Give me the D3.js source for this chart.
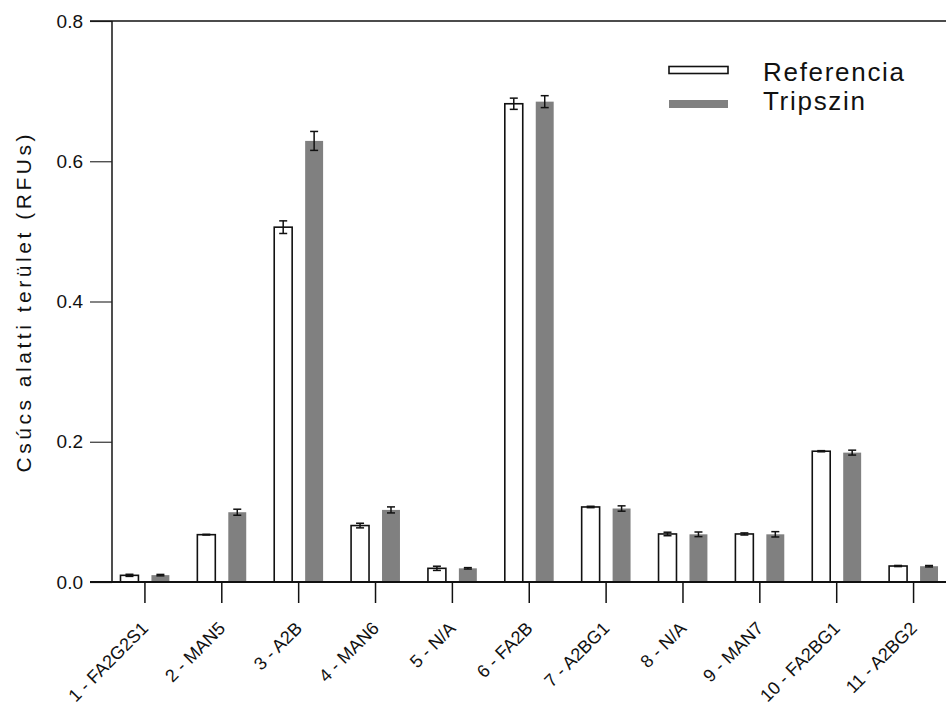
<!DOCTYPE html>
<html>
<head>
<meta charset="utf-8">
<script src="https://cdn.jsdelivr.net/npm/d3@7"></script>
<style>
  html, body { margin: 0; padding: 0; background: #fff; }
  svg { display: block; font-family: "Liberation Sans", Arial, sans-serif; }
</style>
</head>
<body>
<svg id="chart" width="946" height="702"></svg>
<script>
// Glycan peaks: area under each peak for the two sample preparations
const categories = ["1 - FA2G2S1", "2 - MAN5", "3 - A2B", "4 - MAN6", "5 - N/A", "6 - FA2B",
                    "7 - A2BG1", "8 - N/A", "9 - MAN7", "10 - FA2BG1", "11 - A2BG2"];
const seriesNames = ["Referencia", "Tripszin"];
const referencia    = [0.0095, 0.0675, 0.506, 0.0805, 0.0195, 0.682, 0.107, 0.0685, 0.0685, 0.1865, 0.0228];
const referenciaErr = [0.0015, 0.0005, 0.009, 0.0033, 0.0030, 0.008, 0.001, 0.0025, 0.0015, 0.0008, 0.0008];
const tripszin      = [0.0098, 0.0995, 0.629, 0.1028, 0.0195, 0.685, 0.1048, 0.068, 0.068, 0.1845, 0.0225];
const tripszinErr   = [0.0010, 0.0043, 0.0135, 0.0043, 0.0010, 0.0085, 0.0038, 0.0033, 0.0038, 0.0035, 0.0010];
const yTicks = [0.0, 0.2, 0.4, 0.6, 0.8];

const svg = d3.select("#chart");
const plot = { left: 112, top: 21, bottom: 582, right: 946 };

const y = d3.scaleLinear().domain([0, 0.8]).range([plot.bottom, plot.top]);
const x = d3.scaleBand().domain(categories).range([106.5, 952]).paddingInner(0.364).paddingOuter(0.182);
const xSub = d3.scaleBand().domain(seriesNames).range([0, x.bandwidth()]).paddingInner(0.42);

const rows = categories.map((c, i) => ({
  cat: c,
  values: [
    { key: "Referencia", v: referencia[i], e: referenciaErr[i] },
    { key: "Tripszin",   v: tripszin[i],   e: tripszinErr[i] }
  ]
}));

// bars
const groups = svg.append("g").selectAll("g").data(rows).join("g")
  .attr("transform", d => `translate(${x(d.cat)},0)`);

groups.selectAll("rect").data(d => d.values).join("rect")
  .attr("x", d => xSub(d.key))
  .attr("width", xSub.bandwidth())
  .attr("y", d => y(d.v))
  .attr("height", d => y(0) - y(d.v))
  .attr("fill", d => d.key === "Referencia" ? "#fff" : "#808080")
  .attr("stroke", d => d.key === "Referencia" ? "#111" : "none")
  .attr("stroke-width", 1.6);

// error bars
const capHalf = 4;
const eb = groups.selectAll("g.err").data(d => d.values).join("g").attr("class", "err")
  .attr("stroke", "#111").attr("stroke-width", 1.5);
eb.append("line")
  .attr("x1", d => xSub(d.key) + xSub.bandwidth() / 2)
  .attr("x2", d => xSub(d.key) + xSub.bandwidth() / 2)
  .attr("y1", d => y(d.v + d.e)).attr("y2", d => y(d.v - d.e));
eb.append("line")
  .attr("x1", d => xSub(d.key) + xSub.bandwidth() / 2 - capHalf)
  .attr("x2", d => xSub(d.key) + xSub.bandwidth() / 2 + capHalf)
  .attr("y1", d => y(d.v + d.e)).attr("y2", d => y(d.v + d.e));
eb.append("line")
  .attr("x1", d => xSub(d.key) + xSub.bandwidth() / 2 - capHalf)
  .attr("x2", d => xSub(d.key) + xSub.bandwidth() / 2 + capHalf)
  .attr("y1", d => y(d.v - d.e)).attr("y2", d => y(d.v - d.e));

// y axis
const yAxis = svg.append("g")
  .attr("transform", `translate(${plot.left},0)`)
  .call(d3.axisLeft(y).tickValues(yTicks).tickFormat(d3.format(".1f")).tickSize(22).tickPadding(7));
yAxis.select(".domain").remove();
yAxis.selectAll(".tick line").attr("stroke", "#333").attr("stroke-width", 1.2);
yAxis.selectAll(".tick text").attr("font-size", 19).attr("fill", "#111")
  .attr("font-family", "Liberation Sans, Arial, sans-serif");
svg.append("line")
  .attr("x1", plot.left).attr("x2", plot.left)
  .attr("y1", plot.top).attr("y2", plot.bottom)
  .attr("stroke", "#222").attr("stroke-width", 1.6);

// frame lines along top and baseline
svg.append("line").attr("x1", 90).attr("x2", plot.right)
  .attr("y1", y(0.8)).attr("y2", y(0.8)).attr("stroke", "#111").attr("stroke-width", 1.6);
svg.append("line").attr("x1", 90).attr("x2", plot.right)
  .attr("y1", y(0)).attr("y2", y(0)).attr("stroke", "#111").attr("stroke-width", 1.8);

// x axis (ticks hang below the baseline, labels at 45 degrees)
const xAxis = svg.append("g")
  .attr("transform", `translate(0,${plot.bottom})`)
  .call(d3.axisBottom(x).tickSize(21).tickPadding(0));
xAxis.select(".domain").remove();
xAxis.selectAll(".tick line").attr("stroke", "#111").attr("stroke-width", 1.5);
xAxis.selectAll(".tick text")
  .attr("font-size", 18).attr("fill", "#111")
  .attr("font-family", "Liberation Sans, Arial, sans-serif")
  .attr("text-anchor", "end")
  .attr("y", 0).attr("dy", "0.35em")
  .attr("transform", "translate(0,43) rotate(-45)");

// y axis title
svg.append("text")
  .attr("transform", `translate(31,${(plot.top + plot.bottom) / 2 + 2}) rotate(-90)`)
  .attr("text-anchor", "middle")
  .attr("font-size", 21).attr("fill", "#111")
  .attr("textLength", 338).attr("lengthAdjust", "spacing")
  .text("Csúcs alatti terület  (RFUs)");

// legend
const legend = svg.append("g");
legend.append("rect").attr("x", 669).attr("y", 66.5).attr("width", 59).attr("height", 7)
  .attr("fill", "#fff").attr("stroke", "#111").attr("stroke-width", 1.6);
legend.append("rect").attr("x", 669).attr("y", 100).attr("width", 59).attr("height", 8)
  .attr("fill", "#808080");
legend.append("text").attr("x", 763).attr("y", 81).attr("font-size", 26).attr("fill", "#111")
  .attr("textLength", 141).attr("lengthAdjust", "spacing").text(seriesNames[0]);
legend.append("text").attr("x", 763).attr("y", 110).attr("font-size", 26).attr("fill", "#111")
  .attr("textLength", 102).attr("lengthAdjust", "spacing").text(seriesNames[1]);
</script>
</body>
</html>
